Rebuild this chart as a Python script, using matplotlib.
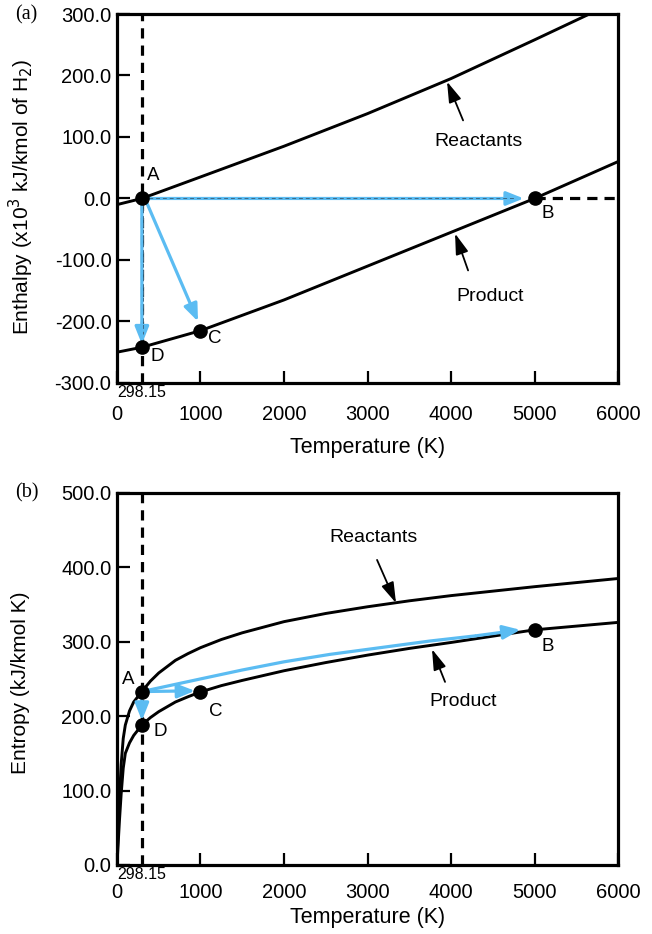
import numpy as np
import matplotlib
matplotlib.use("Agg")
import matplotlib.pyplot as plt

plt.rcParams['font.family'] = ['Liberation Sans', 'DejaVu Sans']

# ---- data ----
# (a) enthalpy, x10^3 kJ/kmol of H2
T_h = [0, 298.15, 1000, 2000, 3000, 4000, 5000, 6000]
H_react = [-10, 0, 35, 85, 138, 195, 258, 322]
H_prod = [-250, -242, -215, -165, -110, -55, 0, 60]

# state points A, B, C, D
pt_names = ['A', 'B', 'C', 'D']
pt_T = [298.15, 5000, 1000, 298.15]
pt_H = [0, 0, -215, -242]

# (b) entropy, kJ/kmol K
T_s = [0, 15, 30, 50, 75, 100, 150, 200, 298.15, 400, 500, 700, 850, 1000,
       1250, 1500, 2000, 2500, 3000, 3500, 4000, 5000, 6000]
S_react = [0, 50, 90, 135, 170, 188, 207, 219, 233, 247, 258, 275, 284, 292,
           303, 312, 327, 338, 347, 355, 362, 374, 385]
S_prod = [0, 30, 60, 95, 130, 150, 164, 174, 188, 198, 206, 219, 226, 232.5,
          241, 248, 261, 272, 282, 291, 299, 316, 326]
pt_S = [233, 316, 232.5, 188]

# blue A->B path on the entropy plot
T_path = [298.15, 1000, 1500, 2000, 2550, 3150, 3750, 4300, 4830]
S_path = [233, 250, 262, 273, 283, 292, 301, 308, 316]

x_ticks = [0, 1000, 2000, 3000, 4000, 5000, 6000]
h_ticks = [300, 200, 100, 0, -100, -200, -300]
s_ticks = [0, 100, 200, 300, 400, 500]

blue = '#5BBCF2'
T0 = 298.15

fig = plt.figure(figsize=(6.52, 9.34), dpi=100)
ax1 = fig.add_axes([0.1794, 0.590, 0.7686, 0.395])
ax2 = fig.add_axes([0.1794, 0.074, 0.7686, 0.3982])


def style_axes(ax, yticks, ylim):
    ax.set_xlim(0, 6000)
    ax.set_ylim(*ylim)
    for side in ['left', 'right', 'top', 'bottom']:
        ax.spines[side].set_linewidth(2.3)
    ax.set_xticks(x_ticks)
    ax.set_xticklabels([str(t) for t in x_ticks])
    ax.set_yticks(yticks)
    ax.set_yticklabels(['%.1f' % v for v in yticks])
    ax.tick_params(direction='in', length=9, width=1.6, labelsize=14.5,
                   top=False, right=False)
    ax.tick_params(axis='y', pad=4)


blue_arrow = dict(arrowstyle='-|>,head_length=0.8,head_width=0.32',
                  color=blue, lw=2.3, mutation_scale=13, shrinkA=0, shrinkB=0)
black_arrow = dict(arrowstyle='-|>,head_length=0.9,head_width=0.28',
                   color='black', lw=1.3, mutation_scale=14, shrinkA=0, shrinkB=0)

# ---------------- (a) enthalpy ----------------
style_axes(ax1, h_ticks, (-300, 300))
ax1.tick_params(axis='x', pad=16)
ax1.plot([T0, T0], [-300, 300], color='black', ls=(0, (3.2, 2.2)), lw=2.3, zorder=2)
ax1.plot([5000, 6000], [0, 0], color='black', ls=(0, (3.2, 2.2)), lw=2.3, zorder=2)
ax1.plot(T_h, H_react, color='black', lw=2.1, zorder=3)
ax1.plot(T_h, H_prod, color='black', lw=2.1, zorder=3)

ax1.annotate('', xy=(4870, 0), xytext=(T0, 0), arrowprops=blue_arrow, zorder=4)
ax1.annotate('', xy=(970, -200), xytext=(360, -8), arrowprops=blue_arrow, zorder=4)
ax1.annotate('', xy=(T0, -237), xytext=(T0, -5), arrowprops=blue_arrow, zorder=4)
ax1.plot([T0, 4750], [0, 0], color='#3d6a88', ls=(0, (4, 3)), lw=0.7, zorder=5)
ax1.plot([T0 + 15, T0 + 15], [-5, -220], color='#3d6a88', ls=(0, (4, 3)), lw=0.7, zorder=5)

ax1.plot(pt_T, pt_H, 'o', color='black', ms=9.5, ls='none', zorder=6)
for name, tx, hy in zip(pt_names, [431, 5162, 1174, 479], [37, -24, -228, -257]):
    ax1.text(tx, hy, name, fontsize=13.5, ha='center', va='center')

ax1.annotate('', xy=(3952, 190), xytext=(4144, 127), arrowprops=black_arrow, zorder=5)
ax1.text(4323, 93, 'Reactants', fontsize=14, ha='center', va='center')
ax1.annotate('', xy=(4048, -57), xytext=(4204, -117), arrowprops=black_arrow, zorder=5)
ax1.text(4467, -159, 'Product', fontsize=14, ha='center', va='center')

ax1.set_ylabel('Enthalpy (x10$^3$ kJ/kmol of H$_2$)', fontsize=15)
ax1.yaxis.set_label_coords(-0.162, 0.504)
ax1.set_xlabel('Temperature (K)', fontsize=15.5)
ax1.xaxis.set_label_coords(0.5, -0.146)
ax1.text(T0, -303, '298.15', fontsize=11.5, ha='center', va='top', clip_on=False)
fig.text(0.041, 0.984, '(a)', fontsize=14.5, family='Liberation Serif', ha='center', va='center')

# ---------------- (b) entropy ----------------
style_axes(ax2, s_ticks, (0, 500))
ax2.tick_params(axis='x', pad=13)
ax2.plot([T0, T0], [0, 500], color='black', ls=(0, (3.2, 2.2)), lw=2.3, zorder=2)
ax2.plot(T_s, S_react, color='black', lw=2.1, zorder=3)
ax2.plot(T_s, S_prod, color='black', lw=2.1, zorder=3)

ax2.plot(T_path[:-1], S_path[:-1], color=blue, lw=2.3, zorder=4, solid_capstyle='butt')
ax2.annotate('', xy=(T_path[-1], S_path[-1]), xytext=(T_path[-2], S_path[-2]),
             arrowprops=blue_arrow, zorder=4)
ax2.annotate('', xy=(934, 234), xytext=(T0, 233), arrowprops=blue_arrow, zorder=4)
ax2.annotate('', xy=(T0, 194), xytext=(T0, 231), arrowprops=blue_arrow, zorder=4)

ax2.plot(pt_T, pt_S, 'o', color='black', ms=9.5, ls='none', zorder=6)
for name, tx, sy in zip(pt_names, [132, 5162, 1186, 515], [249, 293, 206, 179]):
    ax2.text(tx, sy, name, fontsize=13.5, ha='center', va='center')

ax2.annotate('', xy=(3341, 352), xytext=(3114, 410), arrowprops=black_arrow, zorder=5)
ax2.text(3066, 440, 'Reactants', fontsize=14, ha='center', va='center')
ax2.annotate('', xy=(3772, 290), xytext=(3928, 246), arrowprops=black_arrow, zorder=5)
ax2.text(4144, 220, 'Product', fontsize=14, ha='center', va='center')

ax2.set_ylabel('Entropy (kJ/kmol K)', fontsize=15)
ax2.yaxis.set_label_coords(-0.174, 0.49)
ax2.set_xlabel('Temperature (K)', fontsize=15.5)
ax2.xaxis.set_label_coords(0.5, -0.113)
ax2.text(T0, -3, '298.15', fontsize=11.5, ha='center', va='top', clip_on=False)
fig.text(0.041, 0.472, '(b)', fontsize=14.5, family='Liberation Serif', ha='center', va='center')

fig.savefig('out.png', dpi=100)
